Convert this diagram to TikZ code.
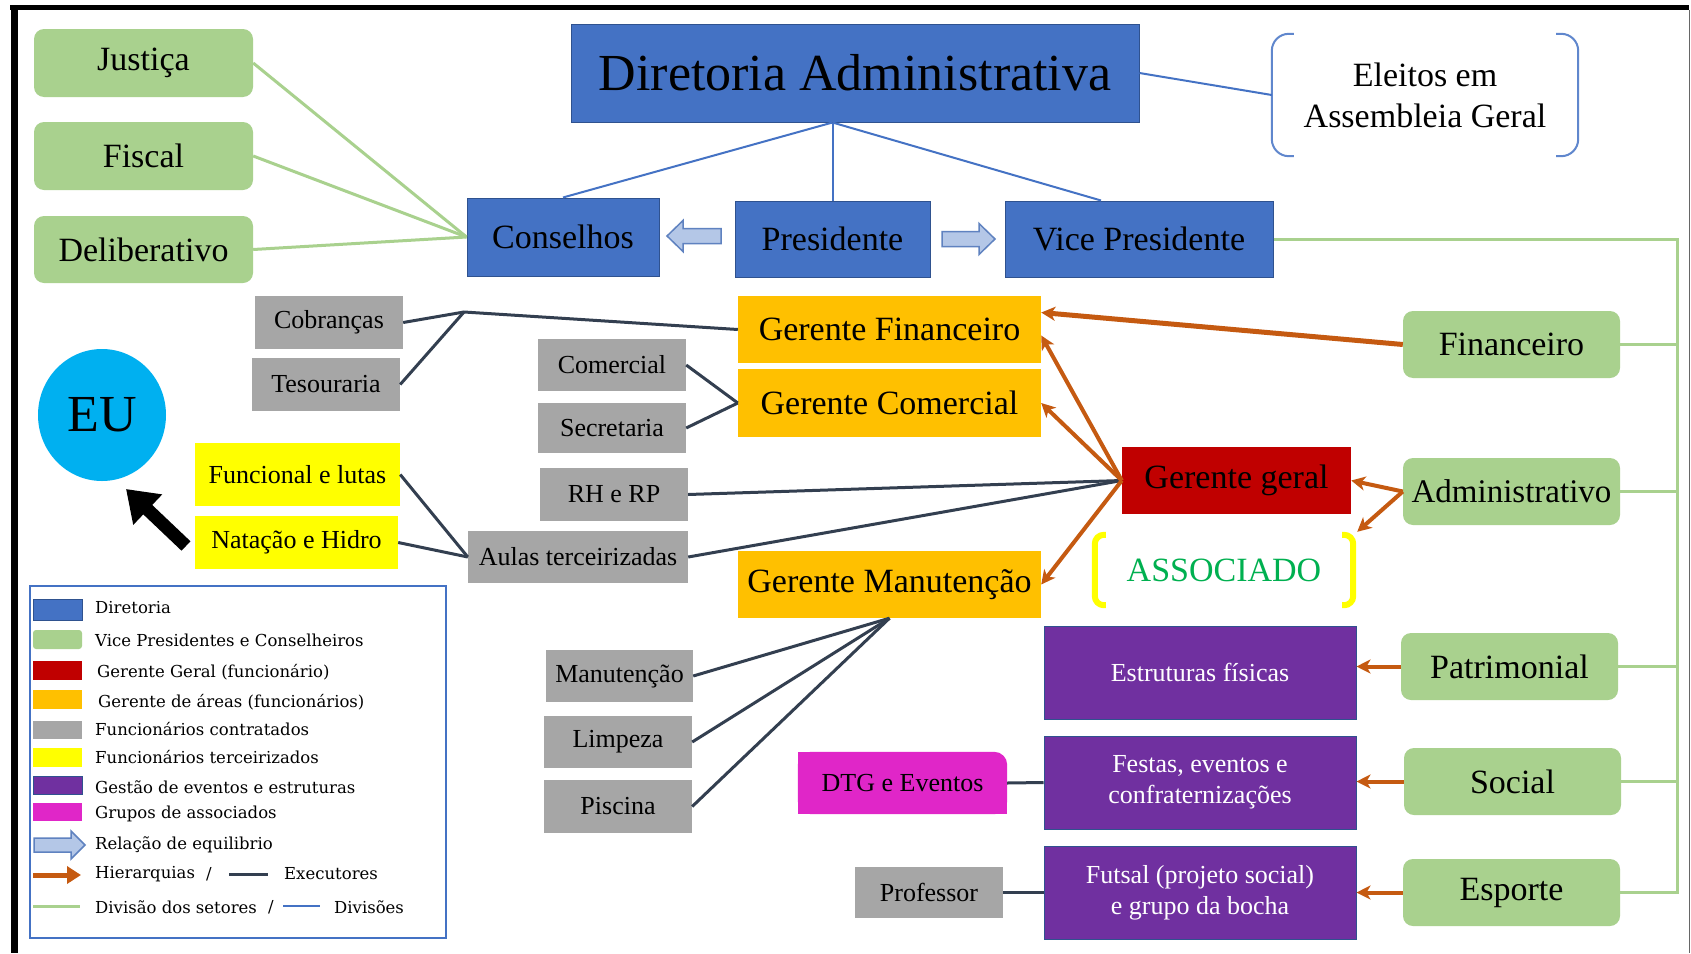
\documentclass[tikz,border=0pt]{standalone}
\usepackage{fontspec}
\setmainfont{Liberation Serif}
\newfontfamily\legfont{DejaVu Serif}
\usetikzlibrary{arrows.meta,calc,backgrounds,shapes.geometric}
\definecolor{cblue}{HTML}{4472C4}
\definecolor{cbluedark}{HTML}{2F528F}
\definecolor{cgreen}{HTML}{A9D18E}
\definecolor{cred}{HTML}{C00000}
\definecolor{corange}{HTML}{FFC000}
\definecolor{cgray}{HTML}{A6A6A6}
\definecolor{cyellow}{HTML}{FFFF00}
\definecolor{cpurple}{HTML}{7030A0}
\definecolor{cmag}{HTML}{E026C8}
\definecolor{ccyan}{HTML}{00B0F0}
\definecolor{cnavy}{HTML}{333F50}
\definecolor{carrow}{HTML}{C55A11}
\definecolor{cassoc}{HTML}{00B050}
\definecolor{cafill}{HTML}{B4C7E7}
\definecolor{cadraw}{HTML}{5F82C0}
\begin{document}
\begin{tikzpicture}[x=1pt,y=-1pt,
  wh/.style 2 args={minimum width=#1, minimum height=#2},
  base/.style={inner sep=0pt, align=center, text=black},
  bluebox/.style={base, fill=cblue, draw=cbluedark, line width=1pt, font=\fontsize{34}{40}\selectfont},
  greenbox/.style={base, fill=cgreen, rounded corners=10pt, font=\fontsize{34}{40}\selectfont},
  orangebox/.style={base, fill=corange, font=\fontsize{34}{40}\selectfont},
  graybox/.style={base, fill=cgray, font=\fontsize{26}{30}\selectfont},
  yellowbox/.style={base, fill=cyellow, font=\fontsize{26}{30}\selectfont},
  purplebox/.style={base, fill=cpurple, draw=cbluedark, line width=1pt, text=white, font=\fontsize{26}{31}\selectfont},
  divline/.style={cblue, line width=2pt},
  secline/.style={cgreen, line width=3pt},
  exline/.style={cnavy, line width=3pt},
  hier/.style={carrow, line width=4pt, -{Stealth[length=14pt,width=14pt,inset=4pt]}},
  legtext/.style={anchor=west, inner sep=0pt, font=\legfont\fontsize{16.5}{19}\selectfont},
  hollow/.style={fill=cafill, draw=cadraw, line width=1.5pt, line join=miter},
]
\begin{scope}[on background layer]
\fill[white] (0,0) rectangle (1691,953);
\end{scope}
\useasboundingbox (0,0) rectangle (1691,953);
% frame
\fill[black] (10,5) rectangle (1689,10);
\fill[black] (11,5) rectangle (18,953);
\draw[black!60, line width=1pt] (1689,10) -- (1689,953);

% top level
\node[bluebox, wh={568}{98}, font=\fontsize{52}{60}\selectfont] (dir) at (855,73) {Diretoria Administrativa};
\node[base, wh={306}{122}, font=\fontsize{34}{41}\selectfont] (ele) at (1425,95) {Eleitos em\\Assembleia Geral};
\draw[cblue!85!white, line width=2pt, rounded corners=17pt] ([xshift=22pt]ele.north west) -- (ele.north west) -- (ele.south west) -- ([xshift=22pt]ele.south west);
\draw[cblue!85!white, line width=2pt, rounded corners=17pt] ([xshift=-22pt]ele.north east) -- (ele.north east) -- (ele.south east) -- ([xshift=-22pt]ele.south east);

\node[greenbox, wh={219}{68}] (jus) at (143.5,63) {Justiça};
\node[greenbox, wh={219}{68}] (fis) at (143.5,156) {Fiscal};
\node[greenbox, wh={219}{67}] (del) at (143.5,249.5) {Deliberativo};

\node[bluebox, wh={192}{78}] (cons) at (563,237) {Conselhos};
\node[bluebox, wh={195}{76}] (pres) at (832.5,239) {Presidente};
\node[bluebox, wh={268}{76}] (vice) at (1139,239) {Vice Presidente};

% hollow arrows (balance relation)
\path[hollow] (667,236) -- (683,220.5) -- (683,228.5) -- (721,228.5) -- (721,243.5) -- (683,243.5) -- (683,251.5) -- cycle;
\path[hollow] (995,239) -- (979,223.5) -- (979,231.5) -- (942,231.5) -- (942,246.5) -- (979,246.5) -- (979,254.5) -- cycle;

% gray / yellow left
\node[graybox, wh={148}{53}] (cob) at (329,322.5) {Cobranças};
\node[graybox, wh={148}{53}] (tes) at (326,384.5) {Tesouraria};
\node[ellipse, fill=ccyan, minimum width=128pt, minimum height=132pt, inner sep=0pt, font=\fontsize{52}{60}\selectfont] (eu) at (102,415) {EU};
\node[yellowbox, wh={205}{63}] (func) at (297.5,474.5) {Funcional e lutas};
\node[yellowbox, wh={203}{53}] (nat) at (296.5,542.5) {Natação e Hidro};
\node[graybox, wh={148}{52}] (com) at (612,365) {Comercial};
\node[graybox, wh={148}{50}] (sec) at (612,428) {Secretaria};
\node[graybox, wh={148}{53}] (rh) at (614,494.5) {RH e RP};
\node[graybox, wh={220}{52}] (aulas) at (578,557) {Aulas terceirizadas};

% managers
\node[orangebox, wh={303}{67}] (gf) at (889.5,329.5) {Gerente Financeiro};
\node[orangebox, wh={303}{68}] (gc) at (889.5,403) {Gerente Comercial};
\node[orangebox, wh={303}{67}] (gm) at (889.5,584.5) {Gerente Manutenção};
\node[base, fill=cred, wh={229}{67}, font=\fontsize{34}{40}\selectfont] (gg) at (1236.5,480.5) {Gerente geral};
\node[base, wh={258}{70}, text=cassoc, font=\fontsize{34}{40}\selectfont] (assoc) at (1224,570) {ASSOCIADO};
\draw[cyellow, line width=6pt, rounded corners=9pt] ([xshift=11pt]assoc.north west) -- (assoc.north west) -- (assoc.south west) -- ([xshift=11pt]assoc.south west);
\draw[cyellow, line width=6pt, rounded corners=9pt] ([xshift=-11pt]assoc.north east) -- (assoc.north east) -- (assoc.south east) -- ([xshift=-11pt]assoc.south east);

% sectors
\node[greenbox, wh={217}{67}] (fin) at (1511.5,344.5) {Financeiro};
\node[greenbox, wh={217}{67}, font=\fontsize{33}{40}\selectfont] (adm) at (1511.5,491.5) {Administrativo};
\node[greenbox, wh={217}{67}] (pat) at (1509.5,666.5) {Patrimonial};
\node[greenbox, wh={217}{67}] (soc) at (1512.5,781.5) {Social};
\node[greenbox, wh={217}{67}] (esp) at (1511.5,892.5) {Esporte};

% purple
\node[purplebox, wh={312}{93}] (est) at (1200,672.5) {Estruturas físicas};
\node[purplebox, wh={312}{93}] (fes) at (1200,782.5) {Festas, eventos e\\confraternizações};
\node[purplebox, wh={312}{93}] (fut) at (1200,892.5) {Futsal (projeto social)\\e grupo da bocha};

% bottom left gray / magenta
\node[base, wh={209}{62}, font=\fontsize{26}{30}\selectfont] (dtg) at (902.5,783) {DTG e Eventos};
\begin{scope}[on background layer]
\fill[cmag, rounded corners=13pt] (dtg.south west) rectangle (dtg.north east);
\fill[cmag] (dtg.south west) rectangle (dtg.east);
\fill[cmag] (dtg.south west) rectangle (dtg.north);
\end{scope}
\node[graybox, wh={148}{51}] (prof) at (929,892.5) {Professor};
\node[graybox, wh={147}{52}] (man) at (619.5,676) {Manutenção};
\node[graybox, wh={148}{52}] (lim) at (618,742) {Limpeza};
\node[graybox, wh={148}{53}] (pis) at (618,806.5) {Piscina};

% ---- connectors ----
\coordinate (dirb) at (dir.south -| pres.north);
\draw[divline] (dirb) -- (cons.north);
\draw[divline] (dirb) -- (pres.north);
\draw[divline] (dirb) -- ([xshift=-38pt]vice.north);
\draw[divline] (dir.east) -- (ele.west);

\draw[secline] (jus.east) -- (cons.west);
\draw[secline] (fis.east) -- (cons.west);
\draw[secline] (del.east) -- (cons.west);

\coordinate (bus) at (1677,239);
\draw[secline] (vice.east) -- (vice.east -| bus) -- (esp.east -| bus) -- (esp.east);
\foreach \n in {fin,adm,pat,soc} \draw[secline] (\n.east) -- (\n.east -| bus);

\coordinate (jc) at (464,312);
\draw[exline] (cob.east) -- (jc) -- (gf.west);
\draw[exline] (tes.east) -- (jc);
\draw[exline] (com.east) -- (gc.west);
\draw[exline] (sec.east) -- (gc.west);
\draw[exline] (rh.east) -- (gg.west);
\draw[exline] (aulas.east) -- (gg.west);
\draw[exline] (func.east) -- (aulas.west);
\draw[exline] (nat.east) -- (aulas.west);
\draw[exline] (gm.south) -- (man.east);
\draw[exline] (gm.south) -- (lim.east);
\draw[exline] (gm.south) -- (pis.east);
\draw[exline] (dtg.east) -- (fes.west);
\draw[exline] (prof.east) -- (fut.west);

\draw[hier, line width=5pt] (fin.west) -- ([yshift=17pt]gf.east);
\draw[hier] (gg.west) -- ([yshift=-6pt]gf.east);
\draw[hier] (gg.west) -- (gc.east);
\draw[hier] (gg.west) -- (gm.east);
\draw[hier] (adm.west) -- (gg.east);
\draw[hier] (adm.west) -- ([xshift=4pt,yshift=3pt]assoc.north east);
\draw[hier] (pat.west) -- (pat.west -| est.east);
\draw[hier] (soc.west) -- (soc.west -| fes.east);
\draw[hier] (esp.west) -- (esp.west -| fut.east);

% EU arrow
\coordinate (eutail) at (186,546);
\draw[black, line width=13pt, -{Triangle[length=30pt,width=40pt]}] (eutail) -- ([xshift=24pt,yshift=-74pt]eu.center);

% ---- legend ----
\node[draw=cblue, line width=1.5pt, wh={416}{352}, inner sep=0pt] (legend) at (238,762) {};
\filldraw[fill=cblue, draw=cbluedark, line width=1pt] (33,599) rectangle (82,620);
\fill[cgreen, rounded corners=3pt] (33,630) rectangle (82,649);
\fill[cred] (33,661) rectangle (82,680);
\fill[corange] (33,690) rectangle (82,709);
\fill[cgray] (33,721) rectangle (82,739);
\fill[cyellow] (33,748) rectangle (82,767);
\filldraw[fill=cpurple, draw=cbluedark, line width=1pt] (33,776) rectangle (82,794);
\fill[cmag] (33,803) rectangle (82,821);
\path[hollow] (85,845) -- (71,831) -- (71,838) -- (34,838) -- (34,852) -- (71,852) -- (71,859) -- cycle;
\draw[carrow, line width=5pt, -{Triangle[length=14pt,width=17pt]}] (33,875) -- (81,875);
\draw[cgreen, line width=3pt] (33,906) -- (80,906);
\draw[cnavy, line width=3pt] (229,874) -- (268,874);
\draw[cblue, line width=1.5pt] (283,906) -- (320,906);

\node[legtext] (l1) at (95,608) {Diretoria};
\node[legtext] (l2) at (95,640) {Vice Presidentes e Conselheiros};
\node[legtext] (l3) at (97,672) {Gerente Geral (funcionário)};
\node[legtext] (l4) at (98,702) {Gerente de áreas (funcionários)};
\node[legtext] (l5) at (95,729) {Funcionários contratados};
\node[legtext] (l6) at (95,757) {Funcionários terceirizados};
\node[legtext] (l7) at (95,787) {Gestão de eventos e estruturas};
\node[legtext] (l8) at (95,814) {Grupos de associados};
\node[legtext] (l9) at (95,845) {Relação de equilibrio};
\node[legtext] (l10) at (95,874) {Hierarquias};
\node[legtext] (l10s) at (206,874) {/};
\node[legtext] (l10b) at (284,874) {Executores};
\node[legtext] (l11) at (95,907) {Divisão dos setores};
\node[legtext] (l11s) at (268,907) {/};
\node[legtext] (l11b) at (334,907) {Divisões};
\end{tikzpicture}
\end{document}
